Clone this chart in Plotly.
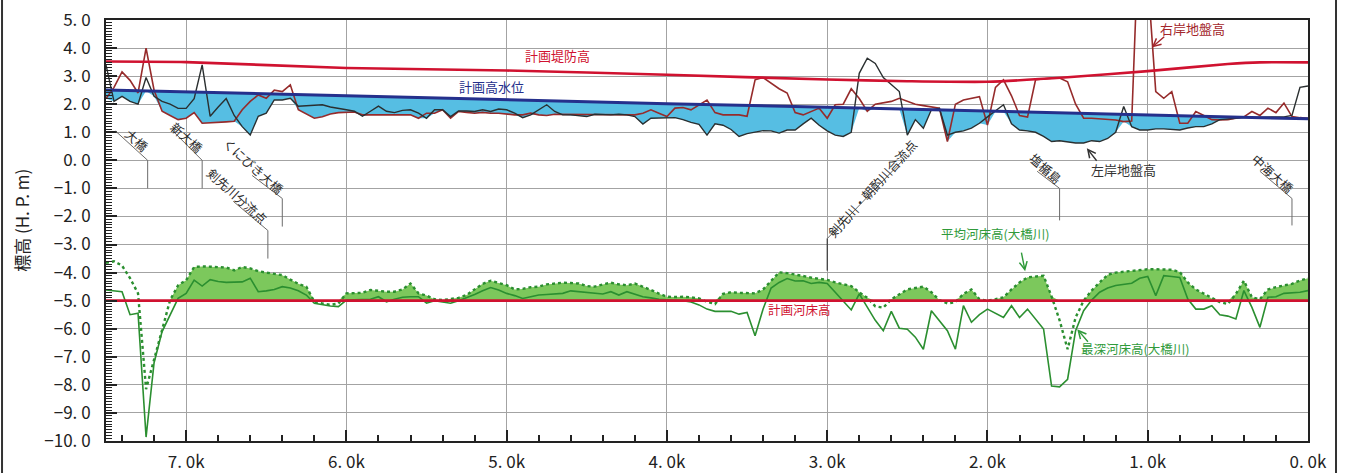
import numpy as np
import plotly.graph_objects as go

# ---------------- data ----------------
# river stations (km), every 50 m from 7.5k down to 0.0k
STATIONS = [round(7.5 - 0.05 * i, 2) for i in range(151)]

LEFT_BANK = [
    3.40, 2.10, 2.28, 2.10, 2.00, 2.95, 2.28, 2.10, 2.00, 1.85,
    1.85, 2.20, 3.40, 1.57, 1.90, 2.20, 1.60, 1.20, 0.90, 1.57,
    1.68, 2.15, 2.15, 2.21, 1.93, 1.95, 1.97, 1.98, 1.90, 1.86,
    1.80, 1.75, 1.57, 1.75, 1.93, 1.75, 1.70, 1.78, 1.80, 1.68,
    1.50, 1.80, 1.80, 1.56, 1.76, 1.76, 1.74, 1.80, 1.74, 1.83,
    1.80, 1.68, 1.52, 1.62, 1.80, 1.98, 1.74, 1.62, 1.62, 1.60,
    1.56, 1.64, 1.62, 1.62, 1.64, 1.62, 1.56, 1.29, 1.50, 1.50,
    1.50, 1.52, 1.45, 1.35, 1.28, 0.90, 1.30, 1.25, 1.10, 0.85,
    0.95, 1.00, 1.06, 1.05, 0.97, 1.08, 1.08, 1.30, 1.50, 1.25,
    1.05, 0.90, 0.85, 1.00, 3.10, 3.64, 3.45, 2.95, 2.70, 2.45,
    0.90, 1.45, 1.14, 1.80, 1.85, 0.90, 1.00, 1.05, 1.15, 1.32,
    1.55, 1.75, 1.98, 1.30, 1.08, 1.05, 1.00, 0.85, 0.67, 0.70,
    0.66, 0.62, 0.62, 0.70, 0.67, 0.78, 1.00, 1.92, 1.20, 1.08,
    1.08, 1.12, 1.12, 1.10, 1.08, 1.15, 1.20, 1.20, 1.30, 1.45,
    1.48, 1.50, 1.52, 1.53, 1.54, 1.55, 1.55, 1.55, 1.60, 2.60,
    2.65,
]

RIGHT_BANK = [
    2.20, 2.60, 3.15, 2.85, 2.40, 4.00, 2.50, 1.75, 1.60, 1.45,
    1.50, 1.70, 1.32, 1.33, 1.35, 1.37, 1.39, 1.80, 2.10, 2.33,
    2.21, 2.50, 2.45, 2.69, 1.80, 1.65, 1.50, 1.55, 1.65, 1.70,
    1.72, 1.72, 1.62, 1.62, 1.62, 1.62, 1.62, 1.62, 1.62, 1.50,
    1.68, 1.68, 1.80, 1.50, 1.74, 1.71, 1.68, 1.71, 1.68, 1.68,
    1.64, 1.62, 1.62, 1.68, 1.62, 1.60, 1.64, 1.64, 1.64, 1.64,
    1.64, 1.64, 1.62, 1.64, 1.62, 1.64, 1.62, 1.68, 1.80, 1.68,
    1.56, 1.86, 1.88, 1.80, 1.98, 2.15, 1.70, 1.62, 1.62, 1.62,
    1.57, 2.87, 2.95, 2.75, 2.55, 2.40, 1.70, 1.62, 1.75, 1.86,
    1.50, 1.98, 2.00, 2.55, 2.20, 1.75, 2.00, 2.04, 2.10, 2.21,
    2.10, 2.00, 1.95, 1.90, 1.86, 0.67, 2.00, 2.15, 2.20, 2.27,
    1.26, 2.60, 2.87, 2.30, 1.60, 1.54, 2.87, 2.90, 2.93, 2.93,
    2.80, 2.00, 1.50, 1.50, 1.48, 1.46, 1.44, 1.38, 1.40, 9.00,
    6.50, 2.45, 2.21, 2.45, 1.32, 1.32, 1.74, 1.60, 1.45, 1.44,
    1.45, 1.50, 1.55, 1.74, 1.60, 1.86, 1.70, 2.04, 1.56, 1.52,
    1.50,
]

DEEPEST_BED = [
    -4.62, -4.65, -4.68, -5.50, -5.45, -9.86, -7.21, -6.10, -5.50, -4.92,
    -4.74, -4.27, -4.48, -4.25, -4.32, -4.35, -4.34, -4.33, -4.20, -4.68,
    -4.65, -4.60, -4.50, -4.55, -4.65, -4.80, -5.09, -5.15, -5.19, -5.21,
    -4.98, -4.97, -4.96, -4.95, -4.86, -5.04, -4.95, -4.88, -4.86, -4.86,
    -5.09, -5.00, -5.05, -5.09, -5.00, -4.90, -4.78, -4.65, -4.53, -4.62,
    -4.74, -4.82, -4.92, -4.86, -4.80, -4.78, -4.76, -4.74, -4.65, -4.68,
    -4.72, -4.74, -4.76, -4.68, -4.80, -4.68, -4.78, -4.86, -4.90, -4.95,
    -4.97, -4.98, -5.00, -5.05, -5.15, -5.30, -5.38, -5.38, -5.38, -5.48,
    -5.42, -6.25, -5.30, -4.55, -4.35, -4.21, -4.30, -4.29, -4.39, -4.35,
    -4.39, -4.70, -5.00, -5.33, -4.76, -5.24, -5.70, -6.07, -5.38, -5.98,
    -6.02, -6.30, -6.73, -5.36, -5.70, -6.07, -6.73, -5.18, -5.77, -5.50,
    -5.30, -5.45, -5.60, -5.18, -5.60, -5.30, -5.65, -6.01, -8.04, -8.07,
    -7.80, -6.07, -5.36, -4.98, -4.70, -4.55, -4.46, -4.42, -4.38, -4.20,
    -4.14, -4.82, -4.11, -4.14, -4.17, -4.94, -5.30, -5.30, -5.18, -5.50,
    -5.55, -5.65, -4.64, -5.24, -5.95, -4.88, -4.86, -4.74, -4.72, -4.70,
    -4.64,
]

AVERAGE_BED = [
    -3.65, -3.60, -3.75, -4.20, -4.74, -8.15, -7.10, -6.04, -4.98, -4.45,
    -4.27, -3.80, -3.78, -3.79, -3.80, -3.82, -3.92, -3.80, -3.85, -3.95,
    -4.00, -4.05, -4.09, -4.25, -4.40, -4.50, -5.04, -5.10, -5.15, -5.10,
    -4.74, -4.73, -4.72, -4.62, -4.66, -4.68, -4.68, -4.60, -4.39, -4.74,
    -4.82, -4.95, -4.98, -4.95, -4.90, -4.80, -4.60, -4.40, -4.29, -4.38,
    -4.45, -4.60, -4.58, -4.52, -4.50, -4.42, -4.38, -4.36, -4.37, -4.39,
    -4.48, -4.50, -4.42, -4.36, -4.42, -4.45, -4.39, -4.50, -4.62, -4.75,
    -4.86, -4.87, -4.86, -4.88, -4.92, -5.04, -5.12, -4.76, -4.70, -4.72,
    -4.74, -4.74, -4.60, -4.30, -3.99, -4.02, -4.06, -4.12, -4.18, -4.23,
    -4.26, -4.35, -4.42, -4.48, -4.70, -4.90, -5.20, -5.25, -4.95, -4.78,
    -4.60, -4.55, -4.50, -4.70, -4.98, -5.10, -5.05, -4.76, -4.60, -4.95,
    -5.00, -4.95, -4.88, -4.60, -4.35, -4.17, -4.14, -4.11, -4.85, -5.70,
    -6.73, -5.60, -5.00, -4.64, -4.35, -4.08, -4.00, -3.97, -3.95, -3.92,
    -3.88, -3.88, -3.89, -3.90, -3.98, -4.35, -4.60, -4.76, -4.92, -5.05,
    -5.12, -4.76, -4.29, -4.88, -4.95, -4.60, -4.52, -4.46, -4.40, -4.28,
    -4.20,
]

LEVEE_KM = [7.5, 7.0, 6.0, 5.0, 4.0, 3.0, 2.5, 2.0, 1.5, 1.0, 0.5, 0.3, 0.0]
LEVEE_H = [3.52, 3.50, 3.29, 3.20, 3.05, 2.88, 2.82, 2.80, 2.96, 3.18, 3.43, 3.49, 3.49]

HWL_KM = [7.5, 6.0, 4.0, 3.0, 2.0, 1.0, 0.0]
HWL_H = [2.51, 2.29, 2.02, 1.89, 1.75, 1.62, 1.48]

PLAN_BED_KM = [7.5, 0.0]
PLAN_BED_H = [-5.0, -5.0]

X_TICKS = [7, 6, 5, 4, 3, 2, 1, 0]
X_TICK_TEXT = ["7. 0k", "6. 0k", "5. 0k", "4. 0k", "3. 0k", "2. 0k", "1. 0k", "0. 0k"]
Y_TICKS = [5, 4, 3, 2, 1, 0, -1, -2, -3, -4, -5, -6, -7, -8, -9, -10]
Y_TICK_TEXT = ["5. 0", "4. 0", "3. 0", "2. 0", "1. 0", "0. 0", "−1. 0", "−2. 0", "−3. 0",
               "−4. 0", "−5. 0", "−6. 0", "−7. 0", "−8. 0", "−9. 0", "−10. 0"]

LANDMARKS = ["大橋", "新大橋", "くにびき大橋", "剣先川分流点", "剣先川・朝酌川合流点", "塩楯島", "中海大橋"]
LANDMARK_KM = [7.24, 6.90, 6.40, 6.49, 3.00, 1.55, 0.10]

# ---------------- styles ----------------
FONT = "Noto Sans CJK JP"
BLUE_FILL = "#56bee3"
GREEN_FILL = "#7cc85c"
GREEN_LINE = "#2b8f30"
LEVEE_RED = "#d01230"
HWL_NAVY = "#25308c"
RB_COLOR = "#962b2b"
LB_COLOR = "#2a2f30"
GRID = "#a3a3a3"
GREEN_FILL_FROM_KM = 7.2   # no shading upstream of this station in the original

st = np.array(STATIONS)
lb = np.array(LEFT_BANK)
rb = np.array(RIGHT_BANK)
db = np.array(DEEPEST_BED)
ab = np.array(AVERAGE_BED)

# boundaries of the shaded areas (taken from the series themselves)
hwl_on_st = np.interp(st, HWL_KM[::-1], HWL_H[::-1])
plan_on_st = np.interp(st, PLAN_BED_KM[::-1], PLAN_BED_H[::-1])
low_bank = np.minimum(np.minimum(lb, rb), hwl_on_st)
bed_top = np.where(st > GREEN_FILL_FROM_KM, plan_on_st, np.maximum(ab, plan_on_st))

fig = go.Figure()
nohover = dict(hoverinfo="skip", showlegend=False)

fig.add_trace(go.Scatter(x=st, y=hwl_on_st, mode="lines", line=dict(width=0, color=BLUE_FILL), **nohover))
fig.add_trace(go.Scatter(x=st, y=low_bank, mode="lines", line=dict(width=0, color=BLUE_FILL),
                         fill="tonexty", fillcolor=BLUE_FILL, **nohover))
fig.add_trace(go.Scatter(x=st, y=plan_on_st, mode="lines", line=dict(width=0, color=GREEN_FILL), **nohover))
fig.add_trace(go.Scatter(x=st, y=bed_top, mode="lines", line=dict(width=0, color=GREEN_FILL),
                         fill="tonexty", fillcolor=GREEN_FILL, **nohover))

fig.add_trace(go.Scatter(x=st, y=rb, mode="lines", name="右岸地盤高",
                         line=dict(color=RB_COLOR, width=1.6), showlegend=False))
fig.add_trace(go.Scatter(x=st, y=lb, mode="lines", name="左岸地盤高",
                         line=dict(color=LB_COLOR, width=1.4), showlegend=False))
fig.add_trace(go.Scatter(x=LEVEE_KM, y=LEVEE_H, mode="lines", name="計画堤防高",
                         line=dict(color=LEVEE_RED, width=2.6, shape="spline", smoothing=0.6), showlegend=False))
fig.add_trace(go.Scatter(x=HWL_KM, y=HWL_H, mode="lines", name="計画高水位",
                         line=dict(color=HWL_NAVY, width=3), showlegend=False))
fig.add_trace(go.Scatter(x=st, y=ab, mode="lines", name="平均河床高(大橋川)",
                         line=dict(color=GREEN_LINE, width=2.4, dash="dot"), showlegend=False))
fig.add_trace(go.Scatter(x=st, y=db, mode="lines", name="最深河床高(大橋川)",
                         line=dict(color=GREEN_LINE, width=1.6), showlegend=False))
fig.add_trace(go.Scatter(x=PLAN_BED_KM, y=PLAN_BED_H, mode="lines", name="計画河床高",
                         line=dict(color=LEVEE_RED, width=2.6), showlegend=False))

annotations = []


def label(km, v, text, color, size=13, angle=0):
    annotations.append(dict(x=km, y=v, xref="x", yref="y", text=text, showarrow=False,
                            textangle=angle, xanchor="center", yanchor="middle",
                            font=dict(family=FONT, size=size, color=color)))


def arrow(km, v, ax, ay, color):
    annotations.append(dict(x=km, y=v, xref="x", yref="y", ax=ax, ay=ay, text="",
                            showarrow=True, arrowhead=5, arrowsize=1.1, arrowwidth=1.4,
                            arrowcolor=color, standoff=0))


label(4.685, 3.75, "計画堤防高", LEVEE_RED, 13)
label(5.097, 2.64, "計画高水位", HWL_NAVY, 13)
label(0.72, 4.68, "右岸地盤高", "#a3262b", 13)
arrow(0.975, 4.02, 14, -12, "#a3262b")
label(1.15, -0.32, "左岸地盤高", "#333333", 13)
arrow(1.38, 0.43, 11, 14, "#333333")
label(1.955, -2.61, "平均河床高(大橋川)", "#2f9a3a", 12.5)
arrow(1.765, -3.95, -4, -20, "#2f9a3a")
label(1.08, -6.71, "最深河床高(大橋川)", "#2f9a3a", 12.5)
arrow(1.44, -6.02, 12, 14, "#2f9a3a")
label(3.175, -5.30, "計画河床高", LEVEE_RED, 12.5)

# landmark labels with leader lines
shapes = []
LEADER = "#6b6b6b"
# (text position, diagonal start, joint level, bottom level, angle)
geo = {
    "大橋": ((7.305, 0.70), (7.44, 1.04), 0.0, -1.0, 42),
    "新大橋": ((6.993, 0.82), (7.087, 1.07), 0.0, -1.0, 42),
    "くにびき大橋": ((6.575, -0.21), (6.588, -0.54), -1.36, -2.36, 42),
    "剣先川分流点": ((6.681, -1.25), (6.706, -1.46), -2.5, -3.5, 42),
    "剣先川・朝酌川合流点": ((2.72, -1.02), (2.52, 0.05), -2.79, -3.93, -48),
    "塩楯島": ((1.634, -0.29), (1.69, -0.39), -1.0, -2.14, 42),
    "中海大橋": ((0.218, -0.46), (0.30, -0.39), -1.36, -2.32, 42),
}
for name, km in zip(LANDMARKS, LANDMARK_KM):
    (tx, ty), (dx, dy), vj, vb, ang = geo[name]
    label(tx, ty, name, "#2b2b2b", 12.5, ang)
    shapes.append(dict(type="line", xref="x", yref="y", x0=dx, y0=dy, x1=km, y1=vj,
                       line=dict(color=LEADER, width=1)))
    shapes.append(dict(type="line", xref="x", yref="y", x0=km, y0=vj, x1=km, y1=vb,
                       line=dict(color="#222222" if name.endswith("合流点") else LEADER, width=1)))

# y axis title
annotations.append(dict(x=-0.07, y=0.525, xref="paper", yref="paper", text="標高 (H. P. m)",
                        showarrow=False, textangle=-90, xanchor="center", yanchor="middle",
                        font=dict(family=FONT, size=17, color="#222222")))

# page frame lines
for px in (-0.0865, 1.0233):
    shapes.append(dict(type="line", xref="paper", yref="paper", x0=px, x1=px, y0=-0.1, y1=1.1,
                       line=dict(color="#333333", width=2)))

fig.update_layout(
    width=1348, height=473,
    margin=dict(l=106, r=40, t=20, b=32, autoexpand=False),
    paper_bgcolor="white", plot_bgcolor="white",
    showlegend=False,
    annotations=annotations,
    shapes=shapes,
    font=dict(family=FONT),
)
fig.update_xaxes(
    range=[7.5, 0.0], tickvals=X_TICKS, ticktext=X_TICK_TEXT, automargin=False,
    showgrid=True, gridcolor=GRID, gridwidth=1,
    ticks="inside", ticklen=11, tickwidth=2, tickcolor="#222222",
    minor=dict(dtick=0.2, tick0=0, ticks="inside", ticklen=6, tickwidth=1.5,
               tickcolor="#222222", showgrid=False),
    showline=True, linecolor="#222222", linewidth=2, mirror=True,
    zeroline=False, ticklabelstandoff=5,
    tickfont=dict(family=FONT, size=17, color="#222222"),
)
fig.update_yaxes(
    range=[-10, 5], tickvals=Y_TICKS, ticktext=Y_TICK_TEXT, automargin=False,
    showgrid=True, gridcolor=GRID, gridwidth=1,
    ticks="inside", ticklen=11, tickwidth=2, tickcolor="#222222",
    minor=dict(dtick=0.1, tick0=0, ticks="inside", ticklen=6, tickwidth=1,
               tickcolor="#222222", showgrid=False),
    showline=True, linecolor="#222222", linewidth=2, mirror=True,
    zeroline=False, ticklabelstandoff=10,
    tickfont=dict(family=FONT, size=17, color="#222222"),
)

fig.write_html("out.html", config={"displayModeBar": False},
               post_script="document.body.style.margin='0';")
